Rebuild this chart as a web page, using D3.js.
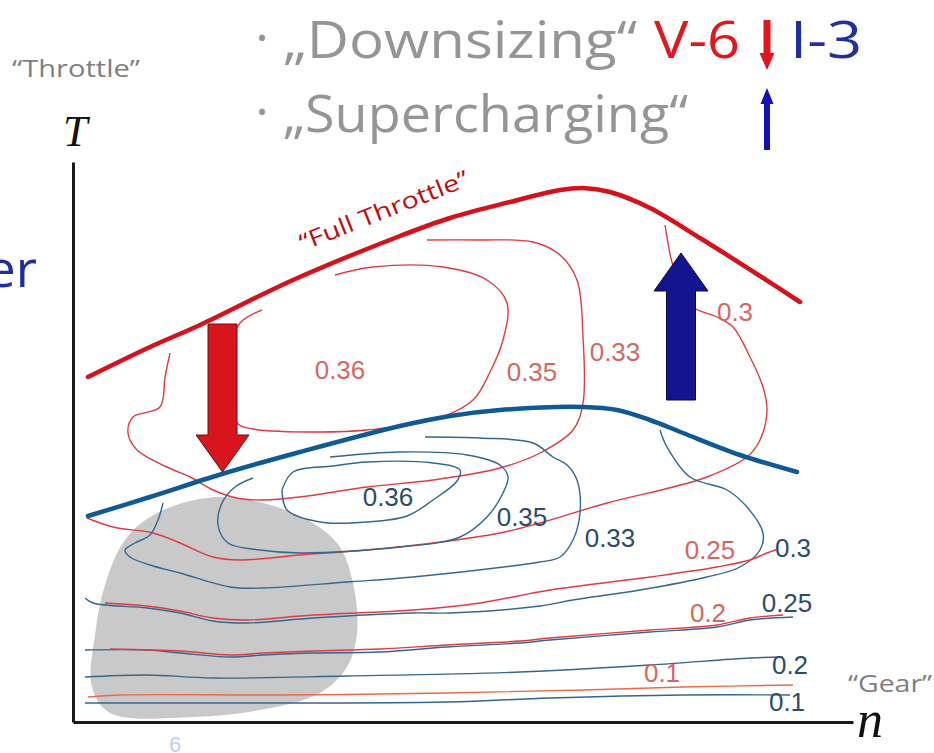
<!DOCTYPE html>
<html>
<head>
<meta charset="utf-8">
<script src="https://cdn.jsdelivr.net/npm/d3@7"></script>
<style>
  body { margin: 0; background: #fff; }
  svg { display: block; }
  text { font-family: "Open Sans", sans-serif; }
</style>
</head>
<body>
<svg id="chart" width="934" height="753">
  <g class="blob"></g>
  <g class="contours"></g>
  <g class="thick"></g>
  <g class="arrows"></g>
  <g class="labels"></g>
  <g class="axes"></g>
  <g class="titles"></g>
</svg>
<script>
// operating points as [n, T] (arbitrary units)
var fullThrottleV6 = [[1.5,34.5],[7.7,37.5],[12.7,39.7],[22,44.2],[32.7,48.6],[37.7,50.4],[43.7,52],[48.7,53.2],[51,53.4],[53.7,53],[57.7,51.4],[62.7,48.4],[68.7,44.6],[72.7,42]];
var fullThrottleI3 = [[1.5,20.6],[7.7,22.5],[14.9,24.8],[22.7,27],[32.7,29.6],[37.7,30.6],[42.7,31.2],[51,31.5],[54.4,31.2],[57.7,30.2],[61,28.9],[66.7,26.7],[72.4,25]];

// V-6 efficiency contours (red)
var red036 = [[18.9,41.2],[16.7,39.9],[15.6,37.2],[15.6,32.2],[16.5,29.8],[18,29.3],[24.7,29],[29.4,29.2],[36,30.2],[40,32.2],[41.7,35],[43,38.2],[43.4,41.9],[41.4,44.2],[37,45.5],[30,45.5],[26.2,44.7]];
var red035 = [[35.4,48.2],[40.7,48.2],[46,48],[48.7,46.7],[50.4,44.2],[51,38.5],[51,31.9],[50,29.2],[46.7,26.9],[42.7,25.4],[36,24.2],[29.4,23.5],[22.7,22.5],[19,22.2],[16.4,22.4],[14,23.2],[11.7,24.5],[9.4,25.5],[6.4,27.2],[5.5,28.9],[6,30.5],[8.7,31.5],[9.2,34.5],[9.7,36.9]];
var red03 = [[59.2,49.7],[59.4,48.5],[59.9,46],[61.7,41.7],[64.4,40.5],[66,39.5],[67.7,36.5],[69,33.5],[69.4,31.2],[68.7,28.2],[67.4,26.5],[63.4,24.5],[60,23.5],[53.4,21.9],[46.7,19.9],[42.7,18.9],[36,17.9],[29.4,17.2],[22.7,16.7],[16.7,16.2],[14,16.5],[10.7,17.9],[8,18.9],[4,19.5],[1.4,20.4]];
var red025 = [[3.2,11.9],[7.4,11.6],[10.7,11.1],[14,10.4],[17.4,10.2],[24,10.7],[34,11.2],[40.7,11.9],[47.7,13.2],[57.7,14.5],[64.4,15.5],[67.7,16.2],[69.4,16.9],[70.5,17.3]];
var red02 = [[3.7,7.3],[10.7,7.1],[15.7,6.7],[19,6.9],[24,7.1],[30.7,7.3],[37.4,7.7],[44.7,8.1],[47.7,8.4],[57.7,9.2],[64.4,9.7],[67.7,10.4],[71,10.7]];
var red01 = [[1.5,2.5],[4.7,2.7],[20.7,2.7],[37.4,2.9],[51,3.2],[61,3.5],[72,3.7]];

// I-3 efficiency contours (blue)
var blue036 = [[20.9,23.2],[22,25],[26,25.6],[29.4,26],[36,25.9],[38.7,25.2],[38.4,24.1],[36,22.2],[33.4,20.6],[29.4,20],[24.7,20],[21.4,21.2],[20.9,23.2]];
var blue035 = [[18,24.4],[16.2,23.5],[14.9,21.9],[14.5,19.7],[15.5,17.9],[18.7,17.2],[22.7,16.9],[32.7,17.5],[38.7,18.5],[41.4,20.5],[43,22.9],[43.5,24.5],[42.7,25.7],[39.4,26.7],[32.7,27],[25.7,26.5]];
var blue033 = [[35.2,28.5],[40.7,28.4],[46,27.9],[48,26.5],[49.4,25.7],[50.4,24.2],[50.7,20.9],[50,18.2],[48.7,16.5],[46.7,16],[44.7,15.7],[34,14.5],[27.4,14],[19,13.4],[15.7,13.5],[10.7,14.9],[7.7,15.7],[5.7,16.5],[5.2,17.2],[6.2,17.9],[7.7,18.7],[8.5,20.2],[9,21.9]];
var blue03 = [[58.7,29.2],[59.4,27.5],[61.7,24.5],[65.4,23.2],[67.4,21.5],[69,18.9],[68.7,17.2],[66.7,15.5],[63.4,14.5],[56.7,13.2],[50,12.2],[46.7,11.6],[37.7,10.9],[34,10.9],[24,10.4],[17.4,9.9],[14,10.1],[10.7,10.9],[7.4,11.4],[2,11.9],[1.2,12.4]];
var blue025 = [[1.2,7.2],[7.4,7.2],[10.7,6.9],[15.7,6.5],[19,6.7],[24,6.9],[30.7,7],[37.4,7.5],[44.7,7.9],[47.7,8.2],[57.7,9],[64.4,9.5],[67.7,10.2],[72,10.5]];
var blue02 = [[1.2,4.5],[7.4,4.7],[14,4.4],[27.4,4.6],[44.7,5],[57.7,5.7],[67.7,6.4],[71,6.5]];
var blue01 = [[1.2,1.9],[14,1.9],[37.4,2],[47.7,2.4],[61,2.7],[71.7,2.7]];

// shaded typical driving region
var drivingRegion = [[8.4,20.9],[14.7,22.5],[22,20.9],[26.4,17.9],[28,13.9],[28.4,8.9],[27.4,5.5],[24.7,2.9],[18.7,1.2],[12,0.5],[3.7,0.9],[1.9,3.5],[2.2,8.7],[3.2,13.7],[5.2,18.2]];

// contour labels: [text, n, T]
var redLabels = [["0.36",26.7,35.2],["0.35",45.9,35],["0.33",54.2,37],["0.3",66.2,41],["0.25",63.7,17.2],["0.2",63.5,10.9],["0.1",58.9,4.9]];
var blueLabels = [["0.36",31.5,22.5],["0.35",44.9,20.5],["0.33",53.7,18.4],["0.3",72,17.4],["0.25",71.4,11.9],["0.2",71.7,5.7],["0.1",71.4,2]];

// big arrows: [n, T start, T end]
var downArrow = [14.95, 39.8, 25];
var upArrow = [60.8, 32.2, 46.9];

var x = d3.scaleLinear().domain([0, 78]).range([73, 853]);
var y = d3.scaleLinear().domain([0, 56]).range([722, 162]);

var svg = d3.select("#chart");

var line = d3.line()
    .x(function(d) { return x(d[0]); })
    .y(function(d) { return y(d[1]); })
    .curve(d3.curveCatmullRom.alpha(0.5));

svg.select("g.blob")
    .append("path")
    .attr("d", d3.line().x(d => x(d[0])).y(d => y(d[1])).curve(d3.curveCatmullRomClosed.alpha(0.5))(drivingRegion))
    .style("fill", "#c9c9c9");

var contours = [
    {pts: red036, color: "#e23a42"}, {pts: red035, color: "#e23a42"}, {pts: red03, color: "#e23a42"},
    {pts: blue036, color: "#34678f"}, {pts: blue035, color: "#34678f"}, {pts: blue033, color: "#34678f"},
    {pts: blue03, color: "#34678f"}, {pts: red025, color: "#e23a42"},
    {pts: blue025, color: "#34678f"}, {pts: red02, color: "#e23a42"},
    {pts: blue02, color: "#34678f"}, {pts: red01, color: "#ec6a4a"}, {pts: blue01, color: "#34678f"}
];

svg.select("g.contours")
    .selectAll("path")
    .data(contours)
    .join("path")
    .attr("d", d => line(d.pts))
    .style("fill", "none")
    .style("stroke", d => d.color)
    .style("stroke-width", "1.4px");

svg.select("g.thick")
    .selectAll("path")
    .data([{pts: fullThrottleV6, color: "#d5121c"}, {pts: fullThrottleI3, color: "#0e5996"}])
    .join("path")
    .attr("d", d => line(d.pts))
    .style("fill", "none")
    .style("stroke", d => d.color)
    .style("stroke-width", "4.5px")
    .style("stroke-linecap", "round");

function arrowPath(a, shaftW, headW, headL) {
    var cx = x(a[0]), y0 = y(a[1]), y1 = y(a[2]);
    var dir = y1 > y0 ? 1 : -1;
    var yb = y1 - dir * headL;
    return "M" + (cx - shaftW / 2) + "," + y0 +
        "L" + (cx + shaftW / 2) + "," + y0 +
        "L" + (cx + shaftW / 2) + "," + yb +
        "L" + (cx + headW / 2) + "," + yb +
        "L" + cx + "," + y1 +
        "L" + (cx - headW / 2) + "," + yb +
        "L" + (cx - shaftW / 2) + "," + yb + "Z";
}

svg.select("g.arrows").append("path")
    .attr("d", arrowPath(downArrow, 29, 53, 37))
    .style("fill", "#d8141c")
    .style("stroke", "#6a1010")
    .style("stroke-width", "1px");

svg.select("g.arrows").append("path")
    .attr("d", arrowPath(upArrow, 29, 54, 38))
    .style("fill", "#14148e")
    .style("stroke", "#0a0a50")
    .style("stroke-width", "1px");

svg.select("g.labels")
    .selectAll("text.red")
    .data(redLabels)
    .join("text")
    .classed("red", true)
    .attr("x", d => x(d[1]))
    .attr("y", d => y(d[2]) + 9)
    .attr("text-anchor", "middle")
    .style("font-family", "Liberation Sans, Arial, sans-serif")
    .style("font-size", "26px")
    .style("fill", "#d6675f")
    .text(d => d[0]);

svg.select("g.labels")
    .selectAll("text.blue")
    .data(blueLabels)
    .join("text")
    .classed("blue", true)
    .attr("x", d => x(d[1]))
    .attr("y", d => y(d[2]) + 9)
    .attr("text-anchor", "middle")
    .style("font-family", "Liberation Sans, Arial, sans-serif")
    .style("font-size", "26px")
    .style("fill", "#2c4c6e")
    .text(d => d[0]);

// axes: only the domain lines
svg.select("g.axes").append("g")
    .attr("transform", "translate(0," + y(0) + ")")
    .call(d3.axisBottom(x).ticks(0).tickSizeOuter(0))
    .select(".domain").style("stroke", "#1a1a1a").style("stroke-width", "3px");

svg.select("g.axes").append("g")
    .attr("transform", "translate(" + x(0) + ",0)")
    .call(d3.axisLeft(y).ticks(0).tickSizeOuter(0))
    .select(".domain").style("stroke", "#1a1a1a").style("stroke-width", "3px");

var t = svg.select("g.titles");

t.append("text").attr("x", 63).attr("y", 146)
    .style("font-family", "Liberation Serif, serif").style("font-style", "italic")
    .style("font-size", "44px").style("fill", "#111").text("T");
t.append("text").attr("x", 857).attr("y", 737)
    .style("font-family", "Liberation Serif, serif").style("font-style", "italic")
    .style("font-size", "52px").style("fill", "#111").text("n");

t.append("text").attr("x", 12).attr("y", 77)
    .attr("textLength", 128).attr("lengthAdjust", "spacingAndGlyphs")
    .style("font-size", "23px").style("fill", "#7f7f7f").text("\u201cThrottle\u201d");
t.append("text").attr("x", 848).attr("y", 692)
    .attr("textLength", 84).attr("lengthAdjust", "spacingAndGlyphs")
    .style("font-size", "23px").style("fill", "#7f7f7f").text("\u201cGear\u201d");

t.append("text").attr("x", 37).attr("y", 287)
    .attr("text-anchor", "end")
    .style("font-size", "52px").style("fill", "#1e2ea0").text("er");

t.append("text").attr("x", 175).attr("y", 752)
    .attr("text-anchor", "middle")
    .style("font-family", "Liberation Sans, Arial, sans-serif")
    .style("font-size", "22px").style("fill", "#bcd0ea").text("6");

t.append("text")
    .attr("transform", "translate(303,251) rotate(-21.5)")
    .attr("textLength", 180).attr("lengthAdjust", "spacingAndGlyphs")
    .style("font-size", "23px").style("fill", "#c40a0a").text("\u201cFull Throttle\u201d");

// heading lines
t.append("text").attr("x", 262).attr("y", 48).attr("text-anchor", "middle")
    .style("font-size", "28px").style("fill", "#959595").text("\u2022");
t.append("text").attr("x", 283).attr("y", 58)
    .attr("textLength", 354).attr("lengthAdjust", "spacingAndGlyphs")
    .style("font-size", "52px").style("fill", "#959595").text("\u201eDownsizing\u201c");
t.append("text").attr("x", 654).attr("y", 58)
    .attr("textLength", 86).attr("lengthAdjust", "spacingAndGlyphs")
    .style("font-size", "52px").style("fill", "#e3161e").text("V-6");
t.append("text").attr("x", 790).attr("y", 58)
    .attr("textLength", 72).attr("lengthAdjust", "spacingAndGlyphs")
    .style("font-size", "52px").style("fill", "#2030a0").text("I-3");

t.append("text").attr("x", 262).attr("y", 122).attr("text-anchor", "middle")
    .style("font-size", "28px").style("fill", "#959595").text("\u2022");
t.append("text").attr("x", 283).attr("y", 132)
    .attr("textLength", 405).attr("lengthAdjust", "spacingAndGlyphs")
    .style("font-size", "52px").style("fill", "#959595").text("\u201eSupercharging\u201c");

// small heading arrows (pixel space)
function smallArrow(cx, y0, y1, shaftW, headW, headL) {
    var dir = y1 > y0 ? 1 : -1, yb = y1 - dir * headL;
    return "M" + (cx - shaftW / 2) + "," + y0 + "L" + (cx + shaftW / 2) + "," + y0 +
        "L" + (cx + shaftW / 2) + "," + yb + "L" + (cx + headW / 2) + "," + yb +
        "L" + cx + "," + y1 + "L" + (cx - headW / 2) + "," + yb +
        "L" + (cx - shaftW / 2) + "," + yb + "Z";
}
t.append("path").attr("d", smallArrow(767, 20, 70, 7, 15, 17)).style("fill", "#e3161e");
t.append("path").attr("d", smallArrow(767, 150, 88, 6, 13, 16)).style("fill", "#1212b8");
</script>
</body>
</html>
